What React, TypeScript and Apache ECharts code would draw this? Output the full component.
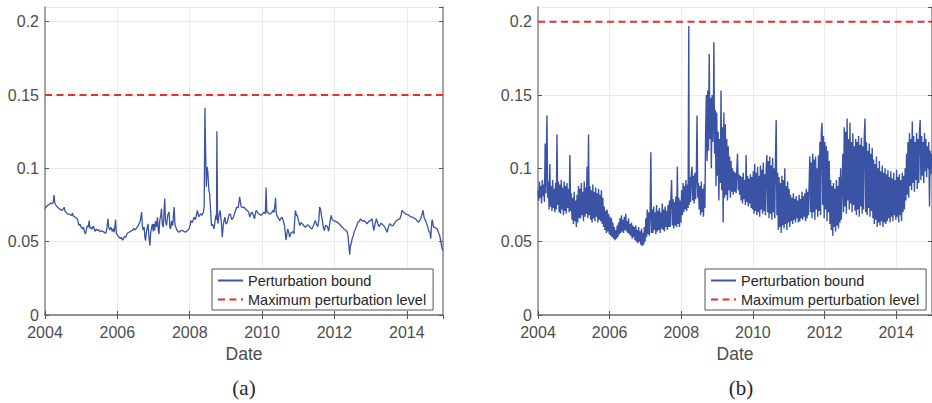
import React, { useEffect, useRef } from "react";
import * as echarts from "echarts";

// ---------- data (decimal year, value) ----------
const panelABound: [number, number][] = [
  [2004.00,0.0725],[2004.04,0.0740],[2004.08,0.0748],[2004.12,0.0755],[2004.16,0.0762],[2004.20,0.0760],[2004.23,0.0770],[2004.25,0.0817],[2004.27,0.0762],[2004.30,0.0750],[2004.34,0.0736],[2004.38,0.0728],[2004.42,0.0720],[2004.46,0.0715],[2004.48,0.0713],[2004.53,0.0735],[2004.55,0.0712],[2004.58,0.0700],[2004.62,0.0690],[2004.66,0.0688],[2004.70,0.0683],[2004.74,0.0680],[2004.76,0.0695],[2004.78,0.0675],[2004.82,0.0670],[2004.86,0.0662],[2004.89,0.0656],[2004.91,0.0640],[2004.94,0.0610],[2004.97,0.0620],[2005.00,0.0598],[2005.03,0.0587],[2005.06,0.0600],[2005.09,0.0570],[2005.12,0.0553],[2005.15,0.0590],[2005.17,0.0610],[2005.20,0.0600],[2005.22,0.0644],[2005.24,0.0590],[2005.26,0.0599],[2005.30,0.0585],[2005.33,0.0605],[2005.35,0.0599],[2005.38,0.0570],[2005.42,0.0585],[2005.45,0.0576],[2005.49,0.0580],[2005.52,0.0568],[2005.56,0.0574],[2005.59,0.0571],[2005.63,0.0565],[2005.66,0.0560],[2005.68,0.0557],[2005.71,0.0590],[2005.74,0.0656],[2005.76,0.0600],[2005.79,0.0580],[2005.82,0.0599],[2005.86,0.0570],[2005.89,0.0590],[2005.91,0.0564],[2005.93,0.0600],[2005.95,0.0650],[2005.97,0.0560],[2006.00,0.0545],[2006.03,0.0535],[2006.05,0.0530],[2006.08,0.0520],[2006.11,0.0530],[2006.14,0.0511],[2006.17,0.0520],[2006.20,0.0535],[2006.23,0.0530],[2006.26,0.0550],[2006.29,0.0560],[2006.32,0.0564],[2006.36,0.0570],[2006.41,0.0576],[2006.45,0.0590],[2006.48,0.0580],[2006.51,0.0587],[2006.55,0.0600],[2006.58,0.0610],[2006.60,0.0622],[2006.63,0.0640],[2006.65,0.0670],[2006.67,0.0702],[2006.69,0.0610],[2006.71,0.0580],[2006.74,0.0599],[2006.76,0.0530],[2006.78,0.0507],[2006.80,0.0560],[2006.82,0.0590],[2006.85,0.0622],[2006.87,0.0540],[2006.90,0.0472],[2006.92,0.0560],[2006.95,0.0600],[2006.97,0.0622],[2006.99,0.0570],[2007.01,0.0620],[2007.03,0.0576],[2007.05,0.0640],[2007.08,0.0600],[2007.11,0.0667],[2007.13,0.0580],[2007.15,0.0553],[2007.17,0.0640],[2007.20,0.0680],[2007.22,0.0725],[2007.24,0.0620],[2007.27,0.0599],[2007.29,0.0700],[2007.31,0.0794],[2007.33,0.0640],[2007.36,0.0610],[2007.39,0.0680],[2007.43,0.0702],[2007.45,0.0600],[2007.47,0.0587],[2007.50,0.0640],[2007.53,0.0610],[2007.55,0.0680],[2007.57,0.0736],[2007.59,0.0620],[2007.63,0.0587],[2007.67,0.0570],[2007.71,0.0564],[2007.75,0.0575],[2007.80,0.0576],[2007.84,0.0570],[2007.89,0.0564],[2007.93,0.0575],[2007.98,0.0587],[2008.01,0.0610],[2008.03,0.0644],[2008.07,0.0630],[2008.12,0.0667],[2008.16,0.0650],[2008.21,0.0713],[2008.25,0.0670],[2008.30,0.0690],[2008.34,0.0680],[2008.38,0.0702],[2008.40,0.0740],[2008.42,0.1413],[2008.44,0.1100],[2008.46,0.0874],[2008.48,0.1011],[2008.50,0.0977],[2008.53,0.0850],[2008.55,0.0828],[2008.58,0.0700],[2008.60,0.0610],[2008.63,0.0620],[2008.67,0.0587],[2008.70,0.0640],[2008.72,0.0679],[2008.74,0.0650],[2008.75,0.1252],[2008.77,0.0650],[2008.78,0.0622],[2008.81,0.0680],[2008.84,0.0713],[2008.87,0.0640],[2008.90,0.0530],[2008.93,0.0620],[2008.97,0.0667],[2009.00,0.0620],[2009.04,0.0633],[2009.08,0.0680],[2009.12,0.0690],[2009.16,0.0650],[2009.21,0.0667],[2009.25,0.0700],[2009.30,0.0736],[2009.34,0.0730],[2009.38,0.0805],[2009.42,0.0740],[2009.46,0.0732],[2009.50,0.0736],
  [2009.55,0.0720],[2009.59,0.0713],[2009.63,0.0700],[2009.66,0.0667],[2009.69,0.0690],[2009.72,0.0702],[2009.76,0.0680],[2009.79,0.0656],[2009.82,0.0700],[2009.84,0.0713],[2009.88,0.0695],[2009.91,0.0690],[2009.94,0.0685],[2009.97,0.0679],[2010.01,0.0690],[2010.05,0.0702],[2010.09,0.0690],[2010.11,0.0869],[2010.13,0.0700],[2010.16,0.0702],[2010.20,0.0690],[2010.23,0.0690],[2010.27,0.0700],[2010.30,0.0713],[2010.33,0.0700],[2010.36,0.0760],[2010.37,0.0800],[2010.39,0.0700],[2010.41,0.0679],[2010.45,0.0660],[2010.49,0.0644],[2010.52,0.0660],[2010.55,0.0667],[2010.59,0.0640],[2010.62,0.0610],[2010.64,0.0560],[2010.66,0.0511],[2010.69,0.0560],[2010.71,0.0587],[2010.74,0.0560],[2010.76,0.0530],[2010.80,0.0560],[2010.83,0.0564],[2010.86,0.0570],[2010.88,0.0553],[2010.90,0.0640],[2010.92,0.0713],[2010.95,0.0680],[2010.97,0.0679],[2011.00,0.0650],[2011.04,0.0610],[2011.08,0.0630],[2011.11,0.0622],[2011.15,0.0610],[2011.20,0.0599],[2011.25,0.0615],[2011.29,0.0610],[2011.33,0.0595],[2011.38,0.0587],[2011.42,0.0610],[2011.47,0.0644],[2011.50,0.0620],[2011.54,0.0603],[2011.57,0.0650],[2011.59,0.0736],[2011.62,0.0720],[2011.64,0.0680],[2011.66,0.0656],[2011.69,0.0600],[2011.72,0.0576],[2011.75,0.0610],[2011.78,0.0610],[2011.81,0.0600],[2011.84,0.0571],[2011.88,0.0640],[2011.91,0.0679],[2011.94,0.0650],[2011.98,0.0644],[2012.02,0.0640],[2012.07,0.0633],[2012.12,0.0625],[2012.17,0.0610],[2012.21,0.0600],[2012.26,0.0587],[2012.30,0.0580],[2012.33,0.0576],[2012.36,0.0560],[2012.38,0.0530],[2012.42,0.0411],[2012.44,0.0470],[2012.46,0.0484],[2012.49,0.0520],[2012.52,0.0541],[2012.55,0.0570],[2012.58,0.0587],[2012.62,0.0610],[2012.65,0.0633],[2012.69,0.0640],[2012.72,0.0656],[2012.77,0.0640],[2012.81,0.0644],[2012.86,0.0635],[2012.90,0.0622],[2012.95,0.0640],[2013.00,0.0644],[2013.04,0.0656],[2013.07,0.0600],[2013.09,0.0576],[2013.12,0.0620],[2013.16,0.0656],[2013.20,0.0620],[2013.23,0.0603],[2013.26,0.0615],[2013.29,0.0626],[2013.33,0.0615],[2013.36,0.0610],[2013.41,0.0590],[2013.46,0.0564],[2013.49,0.0600],[2013.53,0.0622],[2013.58,0.0610],[2013.62,0.0610],[2013.67,0.0630],[2013.71,0.0644],[2013.76,0.0650],[2013.81,0.0656],[2013.84,0.0680],[2013.87,0.0713],[2013.91,0.0700],[2013.96,0.0690],[2014.01,0.0685],[2014.06,0.0679],[2014.10,0.0670],[2014.15,0.0667],[2014.20,0.0660],[2014.24,0.0656],[2014.29,0.0640],[2014.33,0.0633],[2014.37,0.0650],[2014.40,0.0667],[2014.45,0.0713],[2014.48,0.0660],[2014.52,0.0644],[2014.55,0.0620],[2014.58,0.0599],[2014.61,0.0570],[2014.64,0.0564],[2014.66,0.0520],[2014.68,0.0600],[2014.70,0.0650],[2014.74,0.0600],[2014.77,0.0599],[2014.81,0.0590],[2014.84,0.0587],[2014.88,0.0560],[2014.91,0.0541],[2014.94,0.0500],[2014.96,0.0472],[2014.98,0.0450],[2015.00,0.0438]
];

const panelBBound: [number, number][] = [
  [2004.00,0.085],[2004.02,0.078],[2004.04,0.091],[2004.06,0.080],[2004.08,0.088],[2004.10,0.076],[2004.12,0.092],[2004.14,0.081],[2004.16,0.089],[2004.18,0.077],[2004.20,0.117],[2004.22,0.083],[2004.25,0.136],[2004.27,0.080],
  [2004.29,0.091],[2004.31,0.072],[2004.33,0.103],[2004.35,0.074],[2004.37,0.088],[2004.39,0.071],[2004.41,0.092],[2004.43,0.073],[2004.45,0.086],[2004.47,0.070],[2004.49,0.090],[2004.51,0.072],[2004.53,0.123],[2004.55,0.075],
  [2004.57,0.091],[2004.59,0.070],[2004.61,0.089],[2004.63,0.069],[2004.65,0.092],[2004.67,0.072],[2004.69,0.087],[2004.71,0.068],[2004.73,0.091],[2004.75,0.071],[2004.77,0.088],[2004.79,0.069],[2004.81,0.090],[2004.83,0.073],[2004.85,0.086],[2004.87,0.070],[2004.89,0.109],[2004.91,0.071],
  [2004.93,0.083],[2004.95,0.065],[2004.97,0.080],[2004.99,0.062],[2005.01,0.084],[2005.03,0.064],[2005.05,0.078],[2005.07,0.060],[2005.09,0.082],[2005.11,0.063],[2005.13,0.088],[2005.15,0.066],
  [2005.17,0.086],[2005.19,0.066],[2005.21,0.090],[2005.23,0.068],[2005.25,0.084],[2005.27,0.064],[2005.29,0.091],[2005.31,0.067],[2005.33,0.087],[2005.35,0.069],[2005.37,0.101],[2005.39,0.066],[2005.41,0.123],[2005.43,0.068],
  [2005.45,0.088],[2005.47,0.065],[2005.49,0.085],[2005.51,0.063],[2005.53,0.089],[2005.55,0.066],[2005.57,0.084],[2005.59,0.064],[2005.61,0.087],[2005.63,0.067],[2005.65,0.083],[2005.67,0.063],[2005.69,0.086],[2005.71,0.065],[2005.73,0.082],[2005.75,0.064],[2005.77,0.085],[2005.79,0.062],[2005.81,0.080],
  [2005.83,0.060],[2005.85,0.074],[2005.87,0.058],[2005.89,0.071],[2005.91,0.056],[2005.93,0.072],[2005.95,0.057],[2005.97,0.069],[2005.99,0.055],[2006.01,0.067],[2006.03,0.054],[2006.05,0.066],[2006.07,0.053],[2006.09,0.063],
  [2006.11,0.052],[2006.13,0.060],[2006.15,0.051],[2006.17,0.058],[2006.19,0.052],[2006.21,0.061],[2006.23,0.053],[2006.25,0.063],
  [2006.27,0.055],[2006.29,0.066],[2006.31,0.056],[2006.33,0.068],[2006.35,0.057],[2006.37,0.065],[2006.39,0.056],[2006.41,0.067],[2006.43,0.058],[2006.45,0.069],[2006.47,0.057],[2006.49,0.064],[2006.51,0.056],[2006.53,0.066],[2006.55,0.055],[2006.57,0.062],[2006.59,0.054],[2006.61,0.063],[2006.63,0.052],[2006.65,0.061],[2006.67,0.053],[2006.69,0.060],
  [2006.71,0.051],[2006.73,0.061],[2006.75,0.050],[2006.77,0.058],[2006.79,0.049],[2006.81,0.060],[2006.83,0.050],[2006.85,0.057],[2006.87,0.048],[2006.89,0.059],[2006.91,0.047],[2006.93,0.056],[2006.95,0.048],[2006.97,0.060],[2006.99,0.050],
  [2007.01,0.066],[2007.03,0.053],[2007.05,0.072],[2007.07,0.055],[2007.09,0.070],[2007.11,0.054],[2007.13,0.068],[2007.15,0.111],[2007.17,0.056],
  [2007.19,0.072],[2007.21,0.056],[2007.23,0.074],[2007.25,0.058],[2007.27,0.070],[2007.29,0.055],[2007.31,0.075],[2007.33,0.057],[2007.35,0.071],[2007.37,0.058],[2007.39,0.073],[2007.41,0.056],[2007.43,0.070],[2007.45,0.059],[2007.47,0.076],[2007.49,0.058],[2007.51,0.072],[2007.53,0.057],[2007.55,0.074],[2007.57,0.060],[2007.59,0.071],[2007.61,0.058],[2007.63,0.075],[2007.65,0.060],
  [2007.67,0.078],[2007.69,0.060],[2007.71,0.080],[2007.73,0.092],[2007.75,0.061],[2007.77,0.079],[2007.79,0.059],[2007.81,0.077],[2007.83,0.061],[2007.85,0.081],[2007.87,0.060],[2007.89,0.101],[2007.91,0.062],[2007.93,0.080],[2007.95,0.060],[2007.97,0.078],[2007.99,0.063],
  [2008.01,0.085],[2008.03,0.068],[2008.05,0.090],[2008.07,0.070],[2008.09,0.088],[2008.11,0.072],[2008.13,0.092],[2008.15,0.071],[2008.17,0.089],[2008.19,0.073],[2008.21,0.197],[2008.22,0.075],
  [2008.24,0.094],[2008.26,0.077],[2008.28,0.096],[2008.30,0.101],[2008.32,0.078],[2008.34,0.095],[2008.36,0.076],[2008.38,0.097],[2008.40,0.079],[2008.42,0.093],[2008.44,0.136],[2008.46,0.080],
  [2008.48,0.090],[2008.50,0.072],[2008.52,0.088],[2008.54,0.068],[2008.56,0.091],[2008.58,0.070],[2008.60,0.086],[2008.62,0.067],[2008.64,0.089],[2008.66,0.073],
  [2008.68,0.125],[2008.70,0.150],[2008.72,0.105],[2008.74,0.153],[2008.76,0.112],[2008.78,0.178],[2008.80,0.120],[2008.82,0.148],[2008.84,0.100],[2008.86,0.150],[2008.88,0.118],[2008.90,0.145],[2008.91,0.186],[2008.93,0.110],[2008.95,0.140],[2008.97,0.088],
  [2008.99,0.138],[2009.01,0.095],[2009.03,0.125],[2009.05,0.078],[2009.07,0.120],[2009.09,0.090],[2009.11,0.153],[2009.13,0.085],[2009.15,0.128],[2009.17,0.063],[2009.19,0.138],[2009.21,0.080],[2009.23,0.130],[2009.25,0.082],[2009.27,0.120],[2009.29,0.078],[2009.31,0.115],[2009.33,0.085],[2009.35,0.108],[2009.37,0.080],[2009.39,0.105],[2009.41,0.084],[2009.43,0.100],[2009.45,0.082],
  [2009.47,0.098],[2009.49,0.084],[2009.51,0.097],[2009.53,0.083],[2009.55,0.099],[2009.57,0.110],[2009.59,0.085],[2009.61,0.096],[2009.63,0.082],
  [2009.65,0.095],[2009.67,0.078],[2009.69,0.094],[2009.71,0.076],[2009.73,0.097],[2009.75,0.079],[2009.77,0.092],[2009.79,0.075],[2009.81,0.109],[2009.83,0.077],[2009.85,0.095],[2009.87,0.074],[2009.89,0.093],[2009.91,0.076],[2009.93,0.096],[2009.95,0.073],[2009.97,0.094],[2009.99,0.072],
  [2010.01,0.098],[2010.03,0.069],[2010.05,0.103],[2010.07,0.071],[2010.09,0.097],[2010.11,0.068],[2010.13,0.101],[2010.15,0.070],[2010.17,0.095],[2010.19,0.067],[2010.21,0.102],[2010.23,0.072],[2010.25,0.099],[2010.27,0.069],[2010.29,0.104],[2010.31,0.071],[2010.33,0.096],[2010.35,0.068],[2010.37,0.100],[2010.39,0.109],[2010.41,0.070],
  [2010.43,0.105],[2010.45,0.066],[2010.47,0.108],[2010.49,0.069],[2010.51,0.102],[2010.53,0.065],[2010.55,0.107],[2010.57,0.070],[2010.59,0.100],[2010.61,0.066],[2010.63,0.105],[2010.65,0.133],[2010.67,0.068],
  [2010.69,0.097],[2010.71,0.058],[2010.73,0.094],[2010.75,0.060],[2010.77,0.090],[2010.79,0.056],[2010.81,0.095],[2010.83,0.061],[2010.85,0.092],[2010.87,0.059],[2010.89,0.100],[2010.91,0.062],[2010.93,0.088],[2010.95,0.058],[2010.97,0.091],[2010.99,0.063],[2011.01,0.086],[2011.03,0.060],
  [2011.05,0.082],[2011.07,0.064],[2011.09,0.080],[2011.11,0.062],[2011.13,0.083],[2011.15,0.065],[2011.17,0.079],[2011.19,0.063],[2011.21,0.081],[2011.23,0.066],[2011.25,0.078],[2011.27,0.063],[2011.29,0.082],[2011.31,0.064],[2011.33,0.079],[2011.35,0.066],[2011.37,0.084],[2011.39,0.065],[2011.41,0.081],[2011.43,0.067],[2011.45,0.083],[2011.47,0.064],[2011.49,0.086],[2011.51,0.066],[2011.53,0.084],[2011.55,0.068],[2011.57,0.090],[2011.59,0.108],[2011.61,0.070],
  [2011.63,0.104],[2011.65,0.066],[2011.67,0.110],[2011.69,0.070],[2011.71,0.106],[2011.73,0.065],[2011.75,0.108],[2011.77,0.072],[2011.79,0.100],[2011.81,0.067],[2011.83,0.109],[2011.85,0.071],
  [2011.87,0.118],[2011.89,0.068],[2011.91,0.124],[2011.93,0.131],[2011.95,0.075],[2011.97,0.122],[2011.99,0.066],[2012.01,0.118],[2012.03,0.072],[2012.05,0.115],[2012.07,0.064],[2012.09,0.112],[2012.11,0.070],[2012.13,0.105],[2012.15,0.062],
  [2012.17,0.092],[2012.19,0.058],[2012.21,0.088],[2012.23,0.054],[2012.25,0.090],[2012.27,0.060],[2012.29,0.086],[2012.31,0.057],[2012.33,0.092],[2012.35,0.061],[2012.37,0.088],[2012.39,0.059],[2012.41,0.094],[2012.43,0.063],[2012.45,0.100],[2012.47,0.065],
  [2012.51,0.110],[2012.53,0.070],[2012.55,0.128],[2012.57,0.074],[2012.59,0.125],[2012.61,0.069],[2012.63,0.134],[2012.65,0.078],[2012.67,0.120],[2012.69,0.072],[2012.71,0.131],[2012.73,0.076],[2012.75,0.118],[2012.77,0.070],[2012.79,0.124],[2012.81,0.075],[2012.83,0.115],[2012.85,0.071],
  [2012.87,0.120],[2012.89,0.068],[2012.91,0.118],[2012.93,0.072],[2012.95,0.122],[2012.97,0.067],[2012.99,0.116],[2013.01,0.074],[2013.03,0.121],[2013.05,0.069],[2013.07,0.115],[2013.09,0.072],[2013.11,0.123],[2013.13,0.134],[2013.15,0.070],[2013.17,0.118],[2013.19,0.068],[2013.21,0.112],[2013.23,0.073],[2013.25,0.117],[2013.27,0.067],[2013.29,0.110],[2013.31,0.071],[2013.33,0.114],
  [2013.35,0.066],[2013.37,0.106],[2013.39,0.062],[2013.41,0.103],[2013.43,0.065],[2013.45,0.108],[2013.47,0.060],[2013.49,0.100],[2013.51,0.063],[2013.53,0.105],[2013.55,0.061],[2013.57,0.098],[2013.59,0.064],[2013.61,0.102],[2013.63,0.060],[2013.65,0.097],[2013.67,0.063],[2013.69,0.100],[2013.71,0.062],
  [2013.73,0.096],[2013.75,0.064],[2013.77,0.099],[2013.79,0.066],[2013.81,0.094],[2013.83,0.063],[2013.85,0.098],[2013.87,0.067],[2013.89,0.093],[2013.91,0.064],[2013.93,0.097],[2013.95,0.068],[2013.97,0.092],[2013.99,0.065],[2014.01,0.099],[2014.03,0.067],[2014.05,0.094],[2014.07,0.063],[2014.09,0.096],[2014.11,0.068],[2014.13,0.092],[2014.15,0.064],[2014.17,0.097],[2014.19,0.070],[2014.21,0.095],[2014.23,0.072],[2014.25,0.100],
  [2014.27,0.078],[2014.29,0.110],[2014.31,0.082],[2014.33,0.118],[2014.35,0.080],[2014.37,0.124],[2014.39,0.088],[2014.41,0.120],[2014.43,0.085],[2014.45,0.132],[2014.47,0.090],[2014.49,0.122],[2014.51,0.084],[2014.53,0.118],[2014.55,0.092],[2014.57,0.124],[2014.59,0.086],[2014.61,0.120],[2014.63,0.090],
  [2014.65,0.125],[2014.67,0.133],[2014.69,0.092],[2014.71,0.122],[2014.73,0.095],[2014.75,0.118],[2014.77,0.090],[2014.79,0.124],[2014.81,0.098],[2014.83,0.120],[2014.85,0.094],[2014.87,0.115],[2014.89,0.100],[2014.91,0.118],[2014.93,0.074],[2014.95,0.112],[2014.97,0.096],[2014.99,0.110]
];

const panelALevel = 0.15;
const panelBLevel = 0.2;
const xRange = [2004, 2015];
const yRange = [0, 0.21];
const xStep = 2;
const yStep = 0.05;
const captions = ["(a)", "(b)"];
const xTitle = "Date";
const seriesNames = ["Perturbation bound", "Maximum perturbation level"];

const BLUE = "#3a53a5";
const RED = "#ee2c2c";
const FONT = "'Liberation Sans', Arial, Helvetica, sans-serif";

export default function App() {
  const ref = useRef<HTMLDivElement>(null);

  useEffect(() => {
    document.body.style.margin = "0";
    if (!ref.current) return;
    const chart = echarts.init(ref.current, undefined, { renderer: "svg" });

    const grids = [
      { left: 45, top: 7, width: 398, height: 308 },
      { left: 538, top: 7, width: 397, height: 308 },
    ];

    const axisLine = { show: true, lineStyle: { color: "#8a8a8a", width: 1.5 } };
    const tick = { show: true, inside: true, length: 4, lineStyle: { color: "#555", width: 1 } };

    const xAxes: any[] = [];
    const yAxes: any[] = [];
    grids.forEach((_, gi) => {
      xAxes.push({
        type: "value", gridIndex: gi, min: xRange[0], max: xRange[1], interval: xStep,
        position: "bottom",
        axisLine, axisTick: tick,
        axisLabel: { color: "#4d4d4d", fontSize: 16, lineHeight: 16, fontFamily: FONT, margin: 9, showMaxLabel: false, formatter: (v: number) => String(v) },
        splitLine: { show: true, lineStyle: { color: "#ebebeb", width: 1 } },
        name: xTitle, nameLocation: "middle", nameGap: 28,
        nameTextStyle: { color: "#4d4d4d", fontSize: 17.5, fontFamily: FONT },
      });
      xAxes.push({
        type: "value", gridIndex: gi, min: xRange[0], max: xRange[1], interval: xStep,
        position: "top",
        axisLine, axisTick: tick, axisLabel: { show: false }, splitLine: { show: false },
      });
      yAxes.push({
        type: "value", gridIndex: gi, min: yRange[0], max: yRange[1], interval: yStep,
        position: "left",
        axisLine, axisTick: tick,
        axisLabel: { color: "#4d4d4d", fontSize: 16, lineHeight: 14, fontFamily: FONT, margin: 6 },
        splitLine: { show: true, lineStyle: { color: "#ebebeb", width: 1 } },
      });
      yAxes.push({
        type: "value", gridIndex: gi, min: yRange[0], max: yRange[1], interval: yStep,
        position: "right",
        axisLine, axisTick: tick, axisLabel: { show: false }, splitLine: { show: false },
      });
    });

    const levels = [panelALevel, panelBLevel];
    const bounds = [panelABound, panelBBound];
    const widths = [1.3, 1.4];
    const series: any[] = [];
    grids.forEach((_, gi) => {
      series.push({
        type: "line", name: seriesNames[0], xAxisIndex: gi * 2, yAxisIndex: gi * 2,
        data: bounds[gi], showSymbol: false, symbol: "none",
        lineStyle: { color: BLUE, width: widths[gi] }, itemStyle: { color: BLUE }, z: 2,
      });
      series.push({
        type: "line", name: seriesNames[1], xAxisIndex: gi * 2, yAxisIndex: gi * 2,
        data: [[xRange[0], levels[gi]], [xRange[1], levels[gi]]],
        showSymbol: false, symbol: "none",
        lineStyle: { color: RED, width: 2, type: [7, 4.5] }, itemStyle: { color: RED }, z: 3,
      });
    });

    const legendBase = {
      orient: "vertical", top: 269, itemWidth: 25, itemHeight: 14, itemGap: 4,
      padding: [4, 7, 3, 5], borderColor: "#555", borderWidth: 1, backgroundColor: "#fff",
      textStyle: { color: "#262626", fontSize: 14.5, fontFamily: FONT },
      itemStyle: { opacity: 0, borderWidth: 0 },
      data: seriesNames, selectedMode: false, z: 10,
    };

    chart.setOption({
      animation: false,
      grid: grids,
      xAxis: xAxes,
      yAxis: yAxes,
      series,
      legend: [
        { ...legendBase, left: 212 },
        { ...legendBase, left: 705 },
      ],
      graphic: [
        { type: "text", x: 244, y: 388, style: { text: captions[0], fontSize: 21, fontFamily: "'Liberation Serif', 'DejaVu Serif', serif", fill: "#262626", textAlign: "center", textVerticalAlign: "middle" } },
        { type: "text", x: 741, y: 388, style: { text: captions[1], fontSize: 21, fontFamily: "'Liberation Serif', 'DejaVu Serif', serif", fill: "#262626", textAlign: "center", textVerticalAlign: "middle" } },
      ],
    });

    return () => chart.dispose();
  }, []);

  return <div ref={ref} style={{ width: 932, height: 403 }} />;
}
